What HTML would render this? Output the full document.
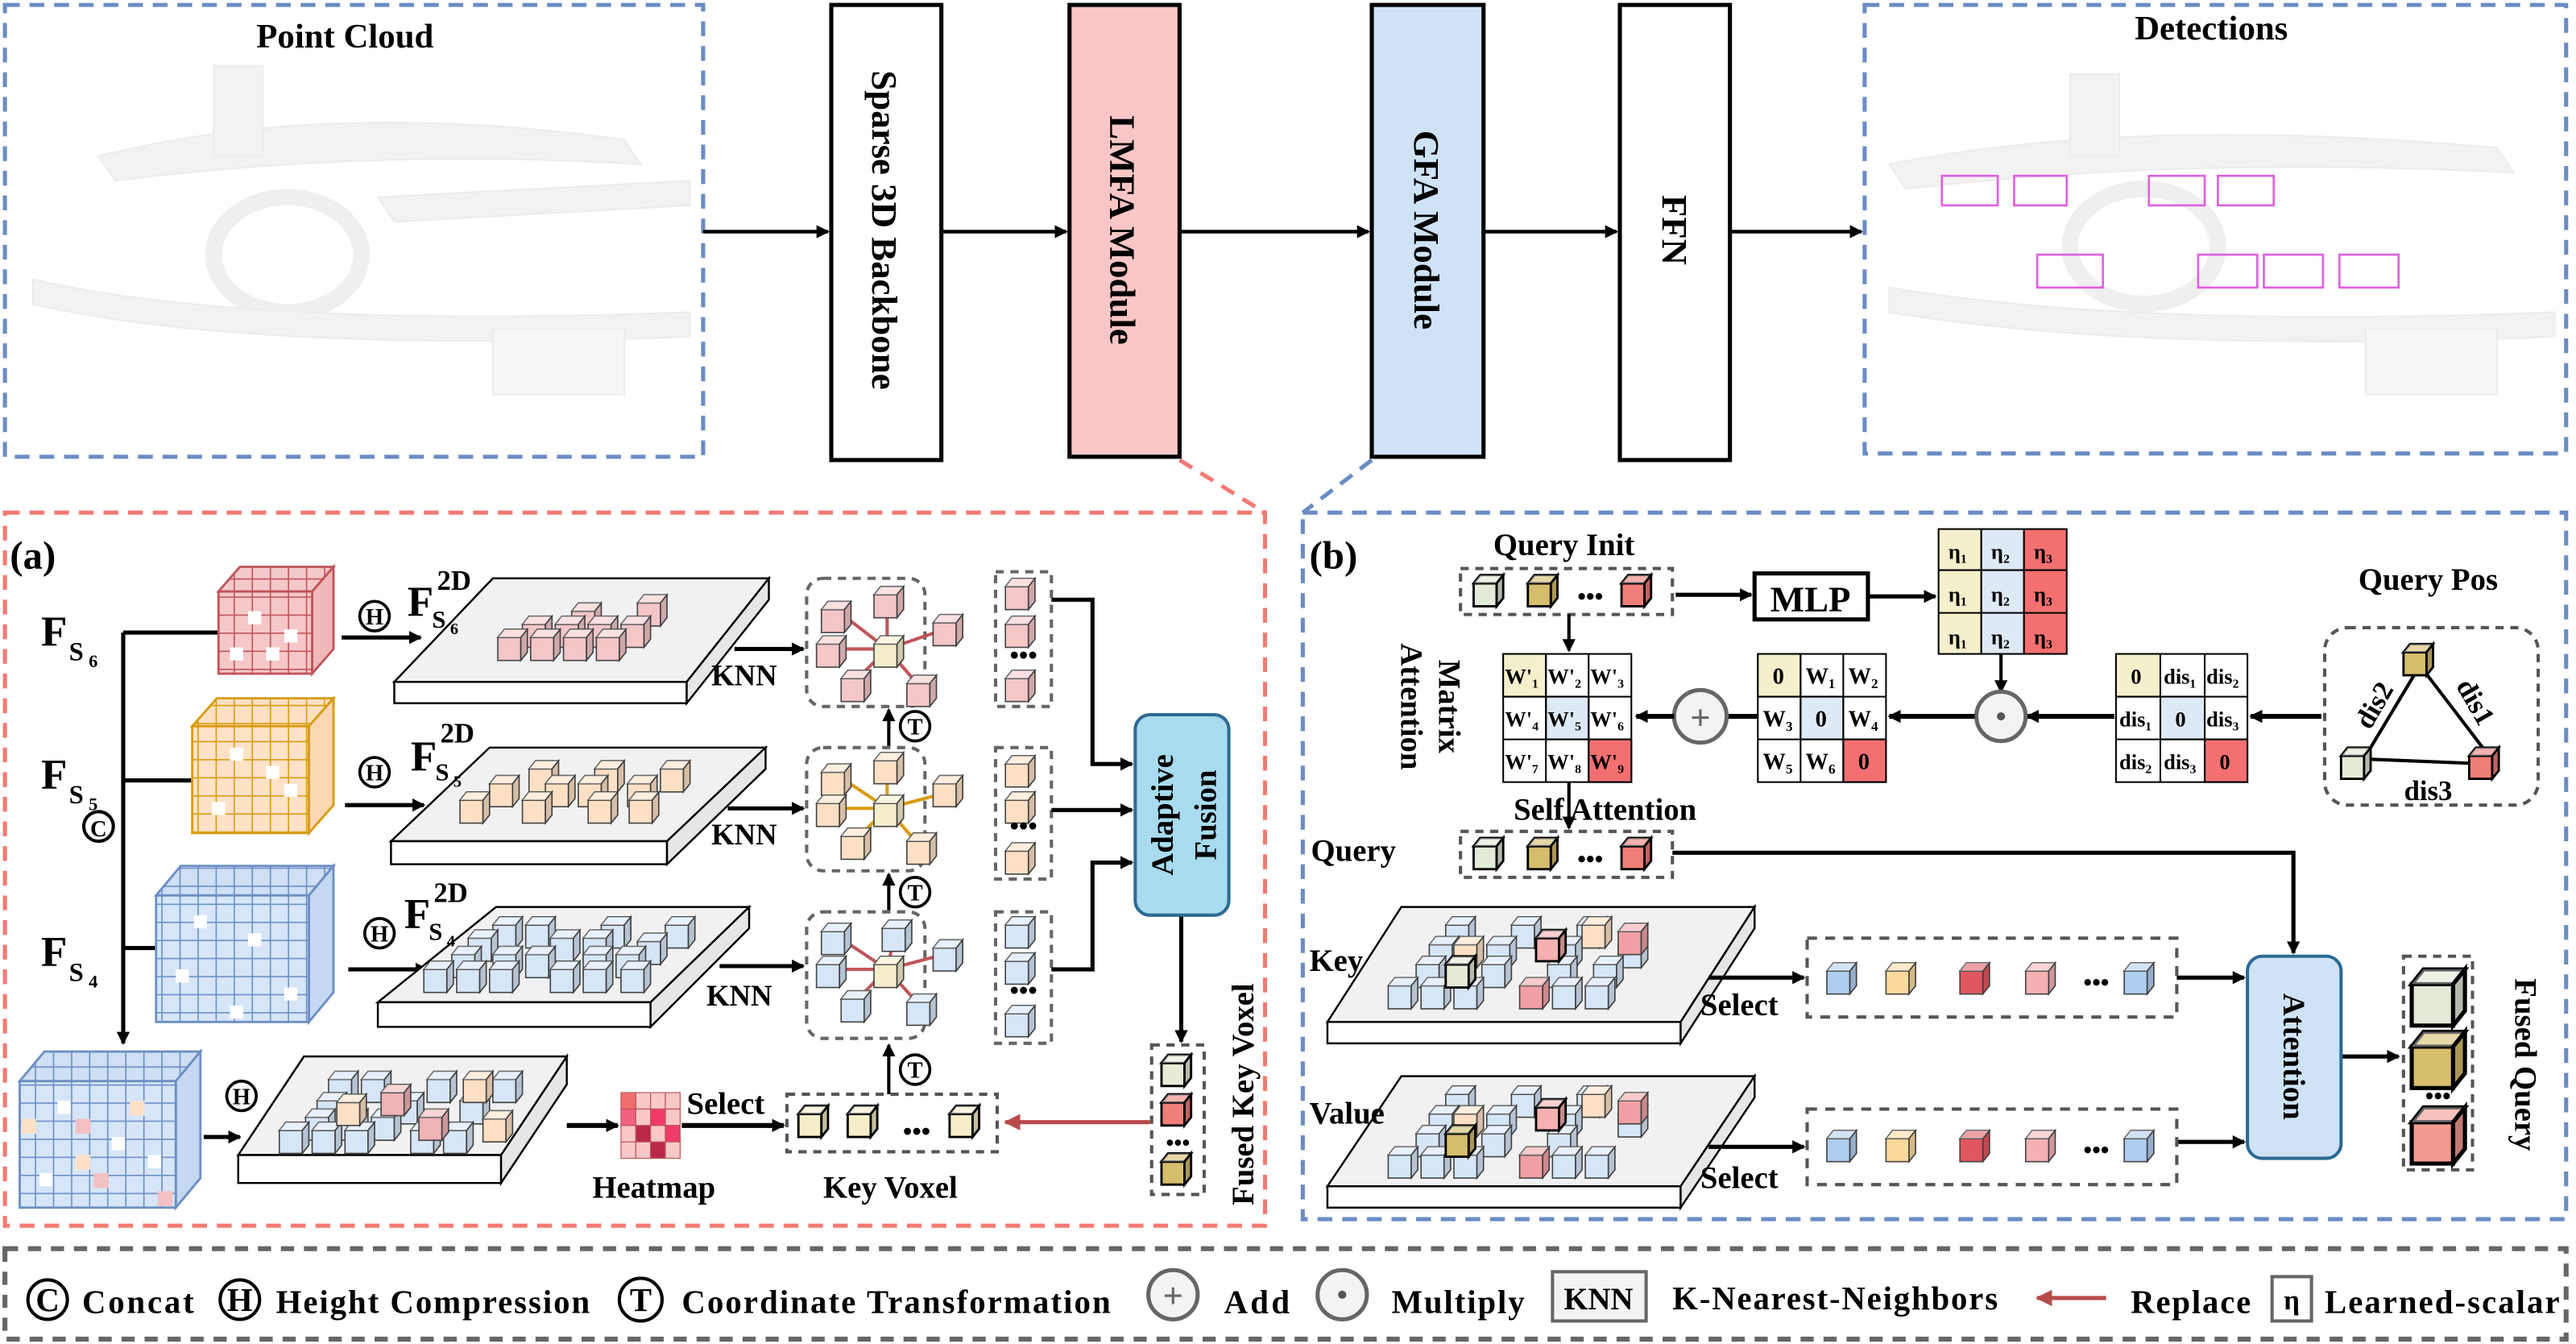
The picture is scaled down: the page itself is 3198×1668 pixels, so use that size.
<!DOCTYPE html>
<html><head><meta charset="utf-8"><style>
html,body{margin:0;padding:0;background:#fff;}
svg{display:block;}
text{font-family:"Liberation Serif","Times New Roman",serif;font-weight:bold;fill:#000;}
</style></head><body>
<svg width="3198" height="1668" viewBox="0 0 1568 818" preserveAspectRatio="none" xmlns="http://www.w3.org/2000/svg" font-family="Liberation Serif, serif">
<defs>
<marker id="ar" markerWidth="8" markerHeight="8" refX="7" refY="4" orient="auto" markerUnits="userSpaceOnUse"><path d="M0,0 L8,4 L0,8 z" fill="#000"/></marker>
<marker id="arr" markerWidth="10" markerHeight="10" refX="9" refY="5" orient="auto" markerUnits="userSpaceOnUse"><path d="M0,0 L10,5 L0,10 z" fill="#b84a4a"/></marker>
<g id="cb"><path d="M0 5h14v14H0z" stroke="#444" stroke-width=".8"/><path d="M0 5l4-5h14l-4 5z" stroke="#444" stroke-width=".8"/><path d="M0 5l4-5h14l-4 5z" fill="#fff" fill-opacity=".45"/><path d="M14 5l4-5v14l-4 5z" stroke="#444" stroke-width=".8"/><path d="M14 5l4-5v14l-4 5z" fill="#000" fill-opacity=".15"/></g>
<g id="cbk"><path d="M0 5h14v14H0z" stroke="#000" stroke-width="1.4"/><path d="M0 5l4-5h14l-4 5z" stroke="#000" stroke-width="1.4"/><path d="M0 5l4-5h14l-4 5z" fill="#fff" fill-opacity=".4"/><path d="M14 5l4-5v14l-4 5z" stroke="#000" stroke-width="1.4"/><path d="M14 5l4-5v14l-4 5z" fill="#000" fill-opacity=".2"/></g>
<pattern id="gp" width="11" height="11" patternUnits="userSpaceOnUse"><path d="M0 0h11v11" fill="none" stroke="#c0555a" stroke-width="1.6"/></pattern>
<pattern id="gy" width="11" height="11" patternUnits="userSpaceOnUse"><path d="M0 0h11v11" fill="none" stroke="#d99c10" stroke-width="1.6"/></pattern>
<pattern id="gb" width="11" height="11" patternUnits="userSpaceOnUse"><path d="M0 0h11v11" fill="none" stroke="#6d8fc4" stroke-width="1.6"/></pattern>
</defs>

<!-- TOP -->
<rect x="3" y="3" width="425" height="275" fill="none" stroke="#6a8cc4" stroke-width="2.5" stroke-dasharray="9,6"/>
<text x="210" y="29" font-size="21" text-anchor="middle">Point Cloud</text>
<g fill="#f2f2f2" stroke="#ececec">
<path d="M60 95 Q200 60 380 85 L390 100 Q230 90 70 110z"/>
<ellipse cx="175" cy="155" rx="45" ry="35" fill="none" stroke="#efefef" stroke-width="10"/>
<rect x="130" y="40" width="30" height="55"/>
<path d="M20 170 Q150 200 420 190 L420 205 Q150 215 20 185z"/>
<path d="M230 120 L420 110 L420 125 L240 135z"/>
<rect x="300" y="200" width="80" height="40" fill="#f6f6f6"/>
</g>
<rect x="1135" y="3" width="427" height="273" fill="none" stroke="#6a8cc4" stroke-width="2.5" stroke-dasharray="9,6"/>
<text x="1346" y="24" font-size="21" text-anchor="middle">Detections</text>
<g fill="#f2f2f2" stroke="#ececec">
<path d="M1150 100 Q1300 70 1520 90 L1530 105 Q1330 95 1160 115z"/>
<ellipse cx="1305" cy="150" rx="45" ry="35" fill="none" stroke="#efefef" stroke-width="10"/>
<rect x="1260" y="45" width="30" height="50"/>
<path d="M1150 175 Q1300 200 1555 190 L1555 205 Q1300 215 1150 190z"/>
<rect x="1440" y="200" width="80" height="40" fill="#f6f6f6"/>
</g>
<g fill="none" stroke="#e060e0" stroke-width="1.3">
<rect x="1182" y="107" width="34" height="18"/><rect x="1226" y="107" width="32" height="18"/><rect x="1308" y="107" width="34" height="18"/><rect x="1350" y="107" width="34" height="18"/>
<rect x="1240" y="155" width="40" height="20"/><rect x="1338" y="155" width="36" height="20"/><rect x="1378" y="155" width="36" height="20"/><rect x="1424" y="155" width="36" height="20"/>
</g>
<g stroke="#000" stroke-width="2.2" marker-end="url(#ar)">
<line x1="428" y1="141" x2="504" y2="141"/><line x1="573" y1="141" x2="649" y2="141"/><line x1="718" y1="141" x2="833" y2="141"/><line x1="903" y1="141" x2="984" y2="141"/><line x1="1053" y1="141" x2="1133" y2="141"/>
</g>
<rect x="506" y="3" width="67" height="277" fill="#fff" stroke="#000" stroke-width="2.5"/>
<rect x="651" y="3" width="67" height="275" fill="#f8c6c6" stroke="#000" stroke-width="2.5"/>
<rect x="835" y="3" width="68" height="275" fill="#cfe3f7" stroke="#000" stroke-width="2.5"/>
<rect x="986" y="3" width="67" height="277" fill="#fff" stroke="#000" stroke-width="2.5"/>
<text font-size="22" transform="translate(531,140) rotate(90)" text-anchor="middle">Sparse 3D Backbone</text>
<text font-size="22" transform="translate(676,140) rotate(90)" text-anchor="middle">LMFA Module</text>
<text font-size="22" transform="translate(861,140) rotate(90)" text-anchor="middle">GFA Module</text>
<text font-size="22" transform="translate(1012,140) rotate(90)" text-anchor="middle">FFN</text>

<path d="M718 280 L770 312" stroke="#f47a74" stroke-width="2.5" stroke-dasharray="9,6" fill="none"/>
<path d="M835 280 L793 312" stroke="#6a8cc4" stroke-width="2.5" stroke-dasharray="9,6" fill="none"/>
<rect x="3" y="312" width="767" height="434" fill="none" stroke="#f47a74" stroke-width="2.5" stroke-dasharray="9,6"/>
<rect x="793" y="312" width="769" height="430" fill="none" stroke="#6a8cc4" stroke-width="2.5" stroke-dasharray="9,6"/>

<!-- PANEL A -->
<text x="6" y="346" font-size="24">(a)</text>
<g font-size="26"><text x="25" y="393">F</text><text x="25" y="480">F</text><text x="25" y="588">F</text></g>
<g font-size="16"><text x="42" y="402">S</text><text x="54" y="406" font-size="11">6</text><text x="42" y="489">S</text><text x="54" y="493" font-size="11">5</text><text x="42" y="597">S</text><text x="54" y="601" font-size="11">4</text></g>
<circle cx="60" cy="503" r="9" fill="none" stroke="#000" stroke-width="2"/><text x="60" y="509" font-size="14" text-anchor="middle">C</text>
<g stroke="#000" stroke-width="2.5" fill="none"><line x1="75" y1="385" x2="75" y2="635" marker-end="url(#ar)"/><line x1="75" y1="385" x2="135" y2="385"/><line x1="75" y1="475" x2="119" y2="475"/><line x1="75" y1="577" x2="97" y2="577"/></g>
<g stroke-width="1.4">
<path d="M133 360 L146 345 L203 345 L190 360z" fill="#f4c9cb" stroke="#c0555a"/><path d="M190 360 L203 345 L203 395 L190 410z" fill="#f0b8bb" stroke="#c0555a"/><rect x="133" y="360" width="57" height="50" fill="#f6c7c9" stroke="#c0555a"/><rect x="133" y="360" width="57" height="50" fill="url(#gp)"/><path d="M133 360 L146 345 L203 345 L190 360z" fill="url(#gp)"/>
<path d="M117 442 L132 425 L203 425 L188 442z" fill="#fde0c2" stroke="#d99c10"/><path d="M188 442 L203 425 L203 490 L188 507z" fill="#fbd7b3" stroke="#d99c10"/><rect x="117" y="442" width="71" height="65" fill="#fde2c8" stroke="#d99c10"/><rect x="117" y="442" width="71" height="65" fill="url(#gy)"/><path d="M117 442 L132 425 L203 425 L188 442z" fill="url(#gy)"/>
<path d="M95 545 L110 527 L203 527 L188 545z" fill="#cfe0f5" stroke="#6d8fc4"/><path d="M188 545 L203 527 L203 604 L188 622z" fill="#c4d8f1" stroke="#6d8fc4"/><rect x="95" y="545" width="93" height="77" fill="#d6e6f8" stroke="#6d8fc4"/><rect x="95" y="545" width="93" height="77" fill="url(#gb)"/><path d="M95 545 L110 527 L203 527 L188 545z" fill="url(#gb)"/>
<path d="M12 658 L27 640 L122 640 L107 658z" fill="#cfe0f5" stroke="#6d8fc4"/><path d="M107 658 L122 640 L122 717 L107 735z" fill="#c4d8f1" stroke="#6d8fc4"/><rect x="12" y="658" width="95" height="77" fill="#d6e6f8" stroke="#6d8fc4"/><rect x="12" y="658" width="95" height="77" fill="url(#gb)"/><path d="M12 658 L27 640 L122 640 L107 658z" fill="url(#gb)"/>
</g>
<g fill="#fff"><rect x="151" y="372" width="8" height="8"/><rect x="173" y="383" width="8" height="8"/><rect x="140" y="394" width="8" height="8"/><rect x="162" y="394" width="8" height="8"/>
<rect x="140" y="455" width="8" height="8"/><rect x="162" y="466" width="8" height="8"/><rect x="129" y="488" width="8" height="8"/><rect x="173" y="477" width="8" height="8"/>
<rect x="118" y="557" width="8" height="8"/><rect x="151" y="568" width="8" height="8"/><rect x="107" y="590" width="8" height="8"/><rect x="173" y="601" width="8" height="8"/><rect x="140" y="612" width="8" height="8"/>
<rect x="35" y="670" width="8" height="8"/><rect x="68" y="692" width="8" height="8"/><rect x="24" y="714" width="8" height="8"/><rect x="90" y="703" width="8" height="8"/></g>
<g fill="#fde2c8"><rect x="13" y="681" width="9" height="9"/><rect x="79" y="670" width="9" height="9"/><rect x="46" y="703" width="9" height="9"/></g>
<g fill="#f3c0c3"><rect x="46" y="681" width="9" height="9"/><rect x="57" y="714" width="9" height="9"/><rect x="96" y="725" width="9" height="9"/></g>
<g fill="none" stroke="#000" stroke-width="1.8"><circle cx="228" cy="375" r="9"/><circle cx="228" cy="470" r="9"/><circle cx="231" cy="568" r="9"/><circle cx="147" cy="667" r="9"/></g>
<g font-size="14" text-anchor="middle"><text x="228" y="380">H</text><text x="228" y="475">H</text><text x="231" y="573">H</text><text x="147" y="672">H</text></g>
<g stroke="#000" stroke-width="2.5" marker-end="url(#ar)"><line x1="208" y1="388" x2="256" y2="388"/><line x1="210" y1="490" x2="258" y2="490"/><line x1="212" y1="590" x2="260" y2="590"/><line x1="124" y1="692" x2="146" y2="692"/></g>
<g stroke="#000" stroke-width="1.2">
<path d="M240 415 L300 352 L468 352 L418 415z" fill="#f1f1f1"/><path d="M240 415h178v13H240z" fill="#fff"/><path d="M418 415 L468 352 v13 L418 428z" fill="#e6e6e6"/>
<path d="M238 512 L298 455 L466 455 L406 512z" fill="#f1f1f1"/><path d="M238 512h168v14H238z" fill="#fff"/><path d="M406 512 L466 455 v13 L406 526z" fill="#e6e6e6"/>
<path d="M230 610 L302 552 L456 552 L396 610z" fill="#f1f1f1"/><path d="M230 610h166v15H230z" fill="#fff"/><path d="M396 610 L456 552 v13 L396 625z" fill="#e6e6e6"/>
<path d="M145 703 L185 643 L345 643 L305 703z" fill="#f1f1f1"/><path d="M145 703h160v17H145z" fill="#fff"/><path d="M305 703 L345 643 v17 L305 720z" fill="#e6e6e6"/>
</g>
<g font-size="26"><text x="248" y="375">F</text><text x="250" y="469">F</text><text x="246" y="565">F</text></g>
<g font-size="17"><text x="266" y="359">2D</text><text x="268" y="452">2D</text><text x="264" y="549">2D</text><text x="263" y="382" font-size="15">S</text><text x="265" y="475" font-size="15">S</text><text x="261" y="572" font-size="15">S</text><text x="274" y="386" font-size="10">6</text><text x="276" y="479" font-size="10">5</text><text x="272" y="576" font-size="10">4</text></g>
<g fill="#f4c6c8"><use href="#cb" x="348" y="367"/><use href="#cb" x="388" y="362"/><use href="#cb" x="318" y="375"/><use href="#cb" x="338" y="375"/><use href="#cb" x="358" y="375"/><use href="#cb" x="378" y="375"/><use href="#cb" x="303" y="383"/><use href="#cb" x="323" y="383"/><use href="#cb" x="343" y="383"/><use href="#cb" x="363" y="383"/></g>
<g fill="#fde0c4"><use href="#cb" x="322" y="463"/><use href="#cb" x="362" y="463"/><use href="#cb" x="402" y="463"/><use href="#cb" x="298" y="472"/><use href="#cb" x="332" y="472"/><use href="#cb" x="352" y="472"/><use href="#cb" x="382" y="472"/><use href="#cb" x="280" y="482"/><use href="#cb" x="318" y="482"/><use href="#cb" x="358" y="482"/><use href="#cb" x="383" y="482"/></g>
<g fill="#d6e6f8"><use href="#cb" x="300" y="558"/><use href="#cb" x="320" y="558"/><use href="#cb" x="366" y="558"/><use href="#cb" x="405" y="558"/><use href="#cb" x="285" y="566"/><use href="#cb" x="335" y="566"/><use href="#cb" x="355" y="566"/><use href="#cb" x="388" y="568"/><use href="#cb" x="275" y="576"/><use href="#cb" x="300" y="576"/><use href="#cb" x="320" y="576"/><use href="#cb" x="355" y="576"/><use href="#cb" x="375" y="576"/><use href="#cb" x="258" y="585"/><use href="#cb" x="278" y="585"/><use href="#cb" x="298" y="585"/><use href="#cb" x="335" y="585"/><use href="#cb" x="355" y="585"/><use href="#cb" x="378" y="585"/></g>
<g fill="#d6e6f8"><use href="#cb" x="200" y="652"/><use href="#cb" x="220" y="652"/><use href="#cb" x="260" y="652"/><use href="#cb" x="300" y="652"/><use href="#cb" x="193" y="665"/><use href="#cb" x="240" y="665"/><use href="#cb" x="280" y="665"/><use href="#cb" x="186" y="675"/><use href="#cb" x="206" y="675"/><use href="#cb" x="226" y="675"/><use href="#cb" x="170" y="683"/><use href="#cb" x="190" y="683"/><use href="#cb" x="210" y="683"/><use href="#cb" x="250" y="683"/><use href="#cb" x="270" y="683"/></g>
<g fill="#fde0c4"><use href="#cb" x="282" y="652"/><use href="#cb" x="205" y="666"/><use href="#cb" x="294" y="676"/></g>
<g fill="#f0b3b6"><use href="#cb" x="232" y="660"/><use href="#cb" x="255" y="675"/></g>
<g font-size="18"><text x="433" y="417">KNN</text><text x="433" y="514">KNN</text><text x="430" y="612">KNN</text></g>
<g stroke="#000" stroke-width="2.5" marker-end="url(#ar)"><line x1="447" y1="395" x2="489" y2="395"/><line x1="443" y1="492" x2="489" y2="492"/><line x1="438" y1="588" x2="489" y2="588"/></g>
<g fill="none" stroke="#666" stroke-width="2" stroke-dasharray="5,4"><rect x="491" y="352" width="72" height="78" rx="10"/><rect x="491" y="455" width="72" height="75" rx="10"/><rect x="491" y="555" width="72" height="77" rx="10"/>
<rect x="606" y="348" width="34" height="82"/><rect x="606" y="455" width="34" height="80"/><rect x="606" y="555" width="34" height="80"/></g>
<g stroke="#c0555a" stroke-width="2"><path d="M540 395 L510 372 M540 395 L578 382 M540 395 L507 395 M540 395 L520 415 M540 395 L560 418 M540 395 L540 370"/></g>
<g stroke="#d99c10" stroke-width="2"><path d="M540 492 L510 472 M540 492 L578 482 M540 492 L507 492 M540 492 L520 512 M540 492 L560 515 M540 492 L540 465"/></g>
<g stroke="#c0555a" stroke-width="2"><path d="M540 590 L510 570 M540 590 L578 580 M540 590 L507 590 M540 590 L520 610 M540 590 L560 612 M540 590 L545 567"/></g>
<g fill="#f4c6c8"><use href="#cb" x="500" y="366"/><use href="#cb" x="568" y="374"/><use href="#cb" x="497" y="387"/><use href="#cb" x="512" y="408"/><use href="#cb" x="552" y="411"/><use href="#cb" x="532" y="357"/><use href="#cb" x="612" y="352"/><use href="#cb" x="612" y="375"/><use href="#cb" x="612" y="408"/></g>
<g fill="#fde0c4"><use href="#cb" x="500" y="465"/><use href="#cb" x="568" y="472"/><use href="#cb" x="497" y="484"/><use href="#cb" x="512" y="504"/><use href="#cb" x="552" y="507"/><use href="#cb" x="532" y="458"/><use href="#cb" x="612" y="460"/><use href="#cb" x="612" y="482"/><use href="#cb" x="612" y="513"/></g>
<g fill="#d6e6f8"><use href="#cb" x="500" y="562"/><use href="#cb" x="568" y="572"/><use href="#cb" x="497" y="582"/><use href="#cb" x="512" y="603"/><use href="#cb" x="552" y="605"/><use href="#cb" x="537" y="560"/><use href="#cb" x="612" y="558"/><use href="#cb" x="612" y="580"/><use href="#cb" x="612" y="612"/></g>
<g fill="#f5eecb"><use href="#cb" x="532" y="387"/><use href="#cb" x="532" y="484"/><use href="#cb" x="532" y="582"/></g>
<g font-size="16" text-anchor="middle"><text x="623" y="404">•••</text><text x="623" y="508">•••</text><text x="623" y="608">•••</text></g>
<g fill="none" stroke="#000" stroke-width="1.8"><circle cx="557" cy="442" r="9"/><circle cx="557" cy="543" r="9"/><circle cx="557" cy="651" r="9"/></g>
<g font-size="14" text-anchor="middle"><text x="557" y="447">T</text><text x="557" y="548">T</text><text x="557" y="656">T</text></g>
<g stroke="#000" stroke-width="2" marker-end="url(#ar)"><line x1="541" y1="454" x2="541" y2="432"/><line x1="541" y1="554" x2="541" y2="532"/><line x1="541" y1="666" x2="541" y2="636"/></g>
<g stroke="#000" stroke-width="2.5" fill="none"><path d="M640 365 H665 V465 H689" marker-end="url(#ar)"/><line x1="640" y1="493" x2="689" y2="493" marker-end="url(#ar)"/><path d="M640 590 H665 V525 H689" marker-end="url(#ar)"/><line x1="719" y1="557" x2="719" y2="634" marker-end="url(#ar)"/></g>
<rect x="691" y="435" width="57" height="122" rx="9" fill="#a8dbef" stroke="#2d6a94" stroke-width="2"/>
<text font-size="19" transform="translate(714,496) rotate(-90)" text-anchor="middle">Adaptive</text>
<text font-size="19" transform="translate(740,496) rotate(-90)" text-anchor="middle">Fusion</text>
<rect x="701" y="636" width="32" height="91" fill="none" stroke="#555" stroke-width="2" stroke-dasharray="5,4"/>
<use href="#cbk" x="707" y="642" fill="#e6ebd8"/><use href="#cbk" x="707" y="666" fill="#f07e78"/><text x="717" y="700" font-size="14" text-anchor="middle">•••</text><use href="#cbk" x="707" y="702" fill="#d6bd6c"/>
<text font-size="19" transform="translate(763,666) rotate(-90)" text-anchor="middle">Fused Key Voxel</text>
<line x1="700" y1="683" x2="612" y2="683" stroke="#b84a4a" stroke-width="2.5" marker-end="url(#arr)"/>
<rect x="479" y="666" width="128" height="35" fill="none" stroke="#555" stroke-width="2" stroke-dasharray="5,4"/>
<g fill="#f5efc8"><use href="#cbk" x="486" y="673"/><use href="#cbk" x="516" y="673"/><use href="#cbk" x="578" y="673"/></g><text x="558" y="694" font-size="16" text-anchor="middle">•••</text>
<g stroke="#c0555a" stroke-width=".6"><rect x="378" y="665" width="9" height="10" fill="#f07070"/><rect x="387" y="665" width="9" height="10" fill="#f8c8c8"/><rect x="396" y="665" width="9" height="10" fill="#f8c8c8"/><rect x="405" y="665" width="9" height="10" fill="#f8c8c8"/>
<rect x="378" y="675" width="9" height="10" fill="#f06080"/><rect x="387" y="675" width="9" height="10" fill="#f8c8c8"/><rect x="396" y="675" width="9" height="10" fill="#f03a6a"/><rect x="405" y="675" width="9" height="10" fill="#f8c8c8"/>
<rect x="378" y="685" width="9" height="10" fill="#f8c8c8"/><rect x="387" y="685" width="9" height="10" fill="#b82848"/><rect x="396" y="685" width="9" height="10" fill="#f8c8c8"/><rect x="405" y="685" width="9" height="10" fill="#f03a6a"/>
<rect x="378" y="695" width="9" height="10" fill="#f8c8c8"/><rect x="387" y="695" width="9" height="10" fill="#f8c8c8"/><rect x="396" y="695" width="9" height="10" fill="#b82848"/><rect x="405" y="695" width="9" height="10" fill="#f8c8c8"/></g>
<g stroke="#000" stroke-width="3" marker-end="url(#ar)"><line x1="345" y1="685" x2="376" y2="685"/><line x1="415" y1="685" x2="477" y2="685"/></g>
<text x="418" y="678" font-size="19">Select</text>
<text x="398" y="729" font-size="19" text-anchor="middle">Heatmap</text>
<text x="542" y="729" font-size="19" text-anchor="middle">Key Voxel</text>

<!-- PANEL B -->
<text x="797" y="346" font-size="24">(b)</text>
<text x="952" y="338" font-size="19" text-anchor="middle">Query Init</text>
<rect x="889" y="346" width="129" height="28" fill="none" stroke="#555" stroke-width="2" stroke-dasharray="5,4"/>
<use href="#cbk" x="897" y="350" fill="#e2ead8"/><use href="#cbk" x="930" y="350" fill="#d6bd6c"/><use href="#cbk" x="987" y="350" fill="#f07e78"/><text x="968" y="368" font-size="15" text-anchor="middle">•••</text>
<line x1="1020" y1="362" x2="1066" y2="362" stroke="#000" stroke-width="2.5" marker-end="url(#ar)"/>
<rect x="1068" y="349" width="69" height="28" fill="#fff" stroke="#000" stroke-width="2.5"/><text x="1102" y="372" font-size="22" text-anchor="middle">MLP</text>
<line x1="1137" y1="363" x2="1178" y2="363" stroke="#000" stroke-width="2.5" marker-end="url(#ar)"/>
<g stroke="#000" stroke-width="1"><rect x="1180" y="322" width="26" height="76" fill="#f5f0cc"/><rect x="1206" y="322" width="26" height="76" fill="#dde9f5"/><rect x="1232" y="322" width="26" height="76" fill="#f47070"/><line x1="1180" y1="347" x2="1258" y2="347"/><line x1="1180" y1="373" x2="1258" y2="373"/></g>
<g font-size="13" font-weight="normal"><text x="1186" y="340">η₁</text><text x="1212" y="340">η₂</text><text x="1238" y="340">η₃</text><text x="1186" y="366">η₁</text><text x="1212" y="366">η₂</text><text x="1238" y="366">η₃</text><text x="1186" y="392">η₁</text><text x="1212" y="392">η₂</text><text x="1238" y="392">η₃</text></g>
<line x1="1218" y1="398" x2="1218" y2="421" stroke="#000" stroke-width="2" marker-end="url(#ar)"/>
<text x="1478" y="359" font-size="19" text-anchor="middle">Query Pos</text>
<rect x="1415" y="382" width="130" height="108" rx="14" fill="none" stroke="#555" stroke-width="2" stroke-dasharray="5,4"/>
<g stroke="#000" stroke-width="2"><line x1="1473" y1="405" x2="1440" y2="460"/><line x1="1473" y1="405" x2="1515" y2="460"/><line x1="1440" y1="462" x2="1515" y2="465"/></g>
<use href="#cbk" x="1463" y="392" fill="#d6bd6c"/><use href="#cbk" x="1425" y="455" fill="#e2ead8"/><use href="#cbk" x="1503" y="455" fill="#f07e78"/>
<text font-size="17" transform="translate(1450,432) rotate(-60)" text-anchor="middle">dis2</text>
<text font-size="17" transform="translate(1502,430) rotate(60)" text-anchor="middle">dis1</text>
<text x="1478" y="487" font-size="17" text-anchor="middle">dis3</text>
<line x1="1413" y1="436" x2="1370" y2="436" stroke="#000" stroke-width="3" marker-end="url(#ar)"/>
<g stroke="#000" stroke-width="1"><rect x="1288" y="398" width="80" height="78" fill="#fff"/><rect x="1288" y="398" width="27" height="26" fill="#f5f0cc"/><rect x="1315" y="424" width="27" height="26" fill="#dde9f5"/><rect x="1342" y="450" width="26" height="26" fill="#f47070"/><path d="M1315 398v78M1342 398v78M1288 424h80M1288 450h80" fill="none"/></g>
<g font-size="13" font-weight="normal"><text x="1297" y="416" font-weight="bold">0</text><text x="1317" y="416">dis₁</text><text x="1343" y="416">dis₂</text><text x="1290" y="442">dis₁</text><text x="1324" y="442" font-weight="bold">0</text><text x="1343" y="442">dis₃</text><text x="1290" y="468">dis₂</text><text x="1317" y="468">dis₃</text><text x="1351" y="468" font-weight="bold">0</text></g>
<line x1="1287" y1="436" x2="1234" y2="436" stroke="#000" stroke-width="3" marker-end="url(#ar)"/>
<circle cx="1218" cy="436" r="15" fill="#f3f3f3" stroke="#666" stroke-width="2.5"/><circle cx="1218" cy="436" r="2.5" fill="#555"/>
<line x1="1202" y1="436" x2="1150" y2="436" stroke="#000" stroke-width="3" marker-end="url(#ar)"/>
<g stroke="#000" stroke-width="1"><rect x="1070" y="398" width="78" height="78" fill="#fff"/><rect x="1070" y="398" width="26" height="26" fill="#f5f0cc"/><rect x="1096" y="424" width="26" height="26" fill="#dde9f5"/><rect x="1122" y="450" width="26" height="26" fill="#f47070"/><path d="M1096 398v78M1122 398v78M1070 424h78M1070 450h78" fill="none"/></g>
<g font-size="14"><text x="1079" y="416">0</text><text x="1099" y="416">W₁</text><text x="1125" y="416">W₂</text><text x="1073" y="442">W₃</text><text x="1105" y="442">0</text><text x="1125" y="442">W₄</text><text x="1073" y="468">W₅</text><text x="1099" y="468">W₆</text><text x="1131" y="468">0</text></g>
<line x1="1070" y1="436" x2="1052" y2="436" stroke="#000" stroke-width="3"/>
<circle cx="1035" cy="436" r="16" fill="#f3f3f3" stroke="#666" stroke-width="2.5"/><text x="1035" y="444" font-size="22" text-anchor="middle" style="fill:#666">+</text>
<line x1="1019" y1="436" x2="996" y2="436" stroke="#000" stroke-width="3" marker-end="url(#ar)"/>
<g stroke="#000" stroke-width="1"><rect x="915" y="398" width="78" height="78" fill="#fff"/><rect x="915" y="398" width="26" height="26" fill="#f5f0cc"/><rect x="941" y="424" width="26" height="26" fill="#dde9f5"/><rect x="967" y="450" width="26" height="26" fill="#f47070"/><path d="M941 398v78M967 398v78M915 424h78M915 450h78" fill="none"/></g>
<g font-size="13"><text x="916" y="416">W'₁</text><text x="942" y="416">W'₂</text><text x="968" y="416">W'₃</text><text x="916" y="442">W'₄</text><text x="942" y="442">W'₅</text><text x="968" y="442">W'₆</text><text x="916" y="468">W'₇</text><text x="942" y="468">W'₈</text><text x="968" y="468">W'₉</text></g>
<line x1="955" y1="374" x2="955" y2="396" stroke="#000" stroke-width="2" marker-end="url(#ar)"/>
<text font-size="19" transform="translate(853,430) rotate(90)" text-anchor="middle">Attention</text>
<text font-size="19" transform="translate(876,430) rotate(90)" text-anchor="middle">Matrix</text>
<text x="977" y="499" font-size="19" text-anchor="middle">Self  Attention</text>
<line x1="955" y1="476" x2="955" y2="504" stroke="#000" stroke-width="2" marker-end="url(#ar)"/>
<text x="798" y="524" font-size="19">Query</text>
<rect x="889" y="506" width="129" height="28" fill="none" stroke="#555" stroke-width="2" stroke-dasharray="5,4"/>
<use href="#cbk" x="897" y="510" fill="#e2ead8"/><use href="#cbk" x="930" y="510" fill="#d6bd6c"/><use href="#cbk" x="987" y="510" fill="#f07e78"/><text x="968" y="528" font-size="15" text-anchor="middle">•••</text>
<path d="M1018 519 H1396 V580" stroke="#000" stroke-width="2.5" fill="none" marker-end="url(#ar)"/>
<g stroke="#000" stroke-width="1.2">
<path d="M808 622 L853 552 L1068 552 L1023 622z" fill="#f1f1f1"/><path d="M808 622h215v13H808z" fill="#fff"/><path d="M1023 622 L1068 552 v13 L1023 635z" fill="#e6e6e6"/>
<path d="M808 722 L853 655 L1068 655 L1023 722z" fill="#f1f1f1"/><path d="M808 722h215v13H808z" fill="#fff"/><path d="M1023 722 L1068 655 v13 L1023 735z" fill="#e6e6e6"/>
</g>
<g fill="#d6e6f8"><use href="#cb" x="880" y="558"/><use href="#cb" x="920" y="558"/><use href="#cb" x="960" y="558"/><use href="#cb" x="870" y="570"/><use href="#cb" x="905" y="570"/><use href="#cb" x="945" y="570"/><use href="#cb" x="985" y="570"/><use href="#cb" x="862" y="582"/><use href="#cb" x="902" y="582"/><use href="#cb" x="942" y="582"/><use href="#cb" x="970" y="582"/><use href="#cb" x="845" y="595"/><use href="#cb" x="865" y="595"/><use href="#cb" x="885" y="595"/><use href="#cb" x="945" y="595"/><use href="#cb" x="965" y="595"/></g>
<g fill="#fde0c4"><use href="#cb" x="885" y="570"/><use href="#cb" x="963" y="558"/></g><g fill="#f0a0a5"><use href="#cb" x="925" y="595"/><use href="#cb" x="985" y="562"/></g><use href="#cbk" x="880" y="582" fill="#e6ebd8"/><use href="#cbk" x="935" y="566" fill="#f5b0b0"/>
<g fill="#d6e6f8"><use href="#cb" x="880" y="661"/><use href="#cb" x="920" y="661"/><use href="#cb" x="960" y="661"/><use href="#cb" x="870" y="673"/><use href="#cb" x="905" y="673"/><use href="#cb" x="945" y="673"/><use href="#cb" x="985" y="673"/><use href="#cb" x="862" y="685"/><use href="#cb" x="902" y="685"/><use href="#cb" x="942" y="685"/><use href="#cb" x="845" y="698"/><use href="#cb" x="865" y="698"/><use href="#cb" x="885" y="698"/><use href="#cb" x="945" y="698"/><use href="#cb" x="965" y="698"/></g>
<g fill="#fde0c4"><use href="#cb" x="885" y="673"/><use href="#cb" x="963" y="661"/></g><g fill="#f0a0a5"><use href="#cb" x="925" y="698"/><use href="#cb" x="985" y="665"/></g><use href="#cbk" x="880" y="685" fill="#d6bd6c"/><use href="#cbk" x="935" y="669" fill="#f5b0b0"/>
<text x="797" y="591" font-size="19">Key</text>
<text x="797" y="684" font-size="19">Value</text>
<g stroke="#000" stroke-width="2.5" marker-end="url(#ar)"><line x1="1040" y1="595" x2="1098" y2="595"/><line x1="1040" y1="698" x2="1098" y2="698"/><line x1="1325" y1="595" x2="1366" y2="595"/><line x1="1325" y1="695" x2="1366" y2="695"/><line x1="1425" y1="643" x2="1460" y2="643"/></g>
<text x="1035" y="618" font-size="19">Select</text><text x="1035" y="723" font-size="19">Select</text>
<rect x="1100" y="571" width="225" height="48" fill="none" stroke="#555" stroke-width="2" stroke-dasharray="6,5"/>
<rect x="1100" y="675" width="225" height="46" fill="none" stroke="#555" stroke-width="2" stroke-dasharray="6,5"/>
<g><use href="#cb" x="1112" y="586" fill="#aecdf0"/><use href="#cb" x="1148" y="586" fill="#fbd99a"/><use href="#cb" x="1193" y="586" fill="#e0575e"/><use href="#cb" x="1233" y="586" fill="#f5b0b5"/><use href="#cb" x="1293" y="586" fill="#aecdf0"/><text x="1276" y="603" font-size="15" text-anchor="middle">•••</text>
<use href="#cb" x="1112" y="688" fill="#aecdf0"/><use href="#cb" x="1148" y="688" fill="#fbd99a"/><use href="#cb" x="1193" y="688" fill="#e0575e"/><use href="#cb" x="1233" y="688" fill="#f5b0b5"/><use href="#cb" x="1293" y="688" fill="#aecdf0"/><text x="1276" y="705" font-size="15" text-anchor="middle">•••</text></g>
<rect x="1368" y="582" width="57" height="123" rx="9" fill="#cfe3f7" stroke="#2d6a94" stroke-width="2"/>
<text font-size="19" transform="translate(1390,643) rotate(90)" text-anchor="middle">Attention</text>
<rect x="1463" y="582" width="42" height="130" fill="none" stroke="#555" stroke-width="2" stroke-dasharray="5,4"/>
<g transform="translate(1468,590) scale(1.8)"><use href="#cbk" fill="#e2ead8"/></g>
<g transform="translate(1468,628) scale(1.8)"><use href="#cbk" fill="#d6bd6c"/></g>
<text x="1484" y="672" font-size="15" text-anchor="middle">•••</text>
<g transform="translate(1468,674) scale(1.8)"><use href="#cbk" fill="#f29a90"/></g>
<text font-size="19" transform="translate(1531,648) rotate(90)" text-anchor="middle">Fused Query</text>

<!-- LEGEND -->
<rect x="3" y="760" width="1559" height="55" fill="none" stroke="#666" stroke-width="3" stroke-dasharray="8,6"/>
<g fill="none" stroke="#000" stroke-width="2"><circle cx="29" cy="791" r="12"/><circle cx="146" cy="791" r="12"/><circle cx="390" cy="791" r="13"/></g>
<circle cx="714" cy="788" r="15" fill="#f3f3f3" stroke="#666" stroke-width="2.5"/><text x="714" y="796" font-size="22" text-anchor="middle" style="fill:#666">+</text>
<circle cx="817" cy="788" r="15" fill="#f3f3f3" stroke="#666" stroke-width="2.5"/><circle cx="817" cy="788" r="2.5" fill="#555"/>
<g font-size="20"><text x="29" y="798" text-anchor="middle">C</text><text x="146" y="798" text-anchor="middle">H</text><text x="390" y="798" text-anchor="middle">T</text>
<text x="50" y="799" textLength="68">Concat</text><text x="168" y="799" textLength="191">Height Compression</text><text x="415" y="799" textLength="261">Coordinate Transformation</text>
<text x="745" y="799" textLength="40">Add</text><text x="847" y="799" textLength="81">Multiply</text><text x="1018" y="797" textLength="198">K-Nearest-Neighbors</text><text x="1297" y="799" textLength="73">Replace</text><text x="1415" y="799" textLength="143">Learned-scalar</text></g>
<rect x="945" y="774" width="57" height="30" fill="#f3f3f3" stroke="#666" stroke-width="2"/><text x="973" y="797" font-size="19" text-anchor="middle" font-weight="normal">KNN</text>
<line x1="1282" y1="790" x2="1240" y2="790" stroke="#b84a4a" stroke-width="2.5" marker-end="url(#arr)"/>
<rect x="1383" y="777" width="24" height="27" fill="#fff" stroke="#666" stroke-width="2"/><text x="1395" y="797" font-size="17" text-anchor="middle" font-weight="normal">η</text>
</svg>
</body></html>
